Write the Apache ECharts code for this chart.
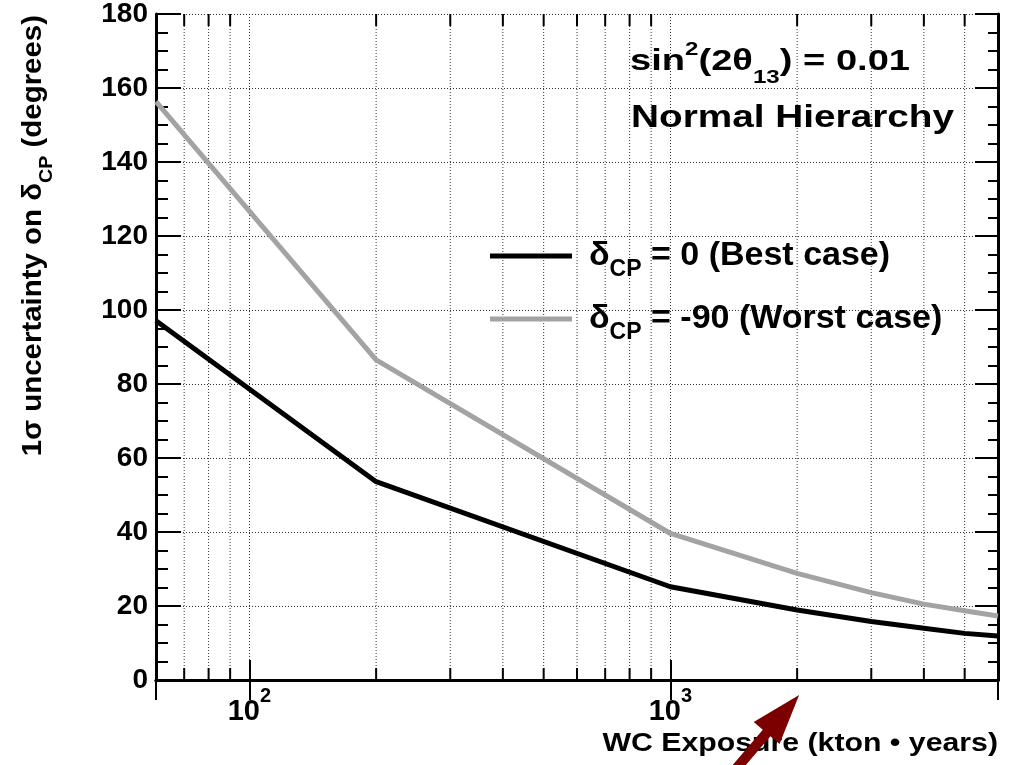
<!DOCTYPE html>
<html><head><meta charset="utf-8">
<script src="https://cdn.jsdelivr.net/npm/echarts@6/dist/echarts.min.js"></script>
<style>html,body{margin:0;padding:0;background:#fff}#c{width:1012px;height:765px}</style>
</head><body><div id="c"></div>
<script>
// ---- data ----
const exposure  = [60, 200, 1000, 2000, 3000, 4000, 5000, 6000];
const bestCase  = [97.1, 53.6, 25.2, 18.9, 15.8, 14.0, 12.6, 11.9];
const worstCase = [156.3, 86.5, 39.6, 28.8, 23.6, 20.5, 18.7, 17.3];
const seriesNames = ['δCP = 0 (Best case)', 'δCP = -90 (Worst case)'];
const xMinorTicks = [70, 80, 90, 200, 300, 400, 500, 600, 700, 800, 900, 2000, 3000, 4000, 5000];
const xRange = [60, 6000];
const yRange = [0, 180];
const yStep = 20;
const arrowTarget = 2000;

const FONT = "'Liberation Sans', Arial, Helvetica, sans-serif";
const GRID_COLOR = '#333';
const GRID_DASH = [1, 2];
const chart = echarts.init(document.getElementById('c'), null, {renderer: 'canvas'});

function pairs(xs, ys) { return xs.map((x, i) => [x, ys[i]]); }

const legendRich = {
  d: {fontSize: 34, fontWeight: 'bold', fontFamily: FONT, color: '#000', lineHeight: 50, verticalAlign: 'middle'},
  sub: {fontSize: 23, fontWeight: 'bold', fontFamily: FONT, color: '#000', lineHeight: 50, verticalAlign: 'bottom'}
};

const option = {
  animation: false,
  backgroundColor: '#fff',
  grid: {left: 156, right: 14, top: 14, bottom: 85, containLabel: false},
  xAxis: [{
    type: 'log', logBase: 10, min: xRange[0], max: xRange[1], position: 'bottom',
    axisLine: {show: true, lineStyle: {color: '#000', width: 3}},
    axisTick: {show: true, inside: true, length: 20, lineStyle: {color: '#000', width: 2}},
    minorTick: {show: false},
    splitLine: {show: true, lineStyle: {color: GRID_COLOR, width: 1, type: GRID_DASH}},
    axisLabel: {
      margin: 6,
      formatter: function (v) {
        const e = Math.round(Math.log10(v));
        if (Math.abs(v - Math.pow(10, e)) > 1e-6 * v) return '';
        return '{b|10}{s|' + e + '}';
      },
      rich: {
        b: {fontSize: 29, fontWeight: 'bold', fontFamily: FONT, color: '#000', lineHeight: 40, verticalAlign: 'bottom'},
        s: {fontSize: 20, fontWeight: 'bold', fontFamily: FONT, color: '#000', lineHeight: 40, verticalAlign: 'top'}
      }
    }
  }, {
    type: 'log', logBase: 10, min: xRange[0], max: xRange[1], position: 'top',
    axisLine: {show: true, lineStyle: {color: '#000', width: 3}},
    axisTick: {show: true, inside: true, length: 20, lineStyle: {color: '#000', width: 2}},
    splitLine: {show: false},
    axisLabel: {show: false}
  }],
  yAxis: [{
    type: 'value', min: yRange[0], max: yRange[1], interval: yStep, position: 'left',
    axisLine: {show: true, lineStyle: {color: '#000', width: 3}},
    axisTick: {show: true, inside: true, length: 25, lineStyle: {color: '#000', width: 2}},
    minorTick: {show: true, splitNumber: 4, length: 12, lineStyle: {color: '#000', width: 2}},
    splitLine: {show: true, lineStyle: {color: GRID_COLOR, width: 1, type: GRID_DASH}},
    axisLabel: {margin: 8, fontSize: 28, fontWeight: 'bold', fontFamily: FONT, color: '#000'}
  }, {
    type: 'value', min: yRange[0], max: yRange[1], interval: yStep, position: 'right',
    axisLine: {show: true, lineStyle: {color: '#000', width: 3}},
    axisTick: {show: true, inside: true, length: 23, lineStyle: {color: '#000', width: 2}},
    minorTick: {show: true, splitNumber: 4, length: 10, lineStyle: {color: '#000', width: 2}},
    splitLine: {show: false},
    axisLabel: {show: false}
  }],
  legend: {
    orient: 'vertical', left: 490, top: 239, itemWidth: 82, itemHeight: 5, itemGap: 21,
    padding: 0, icon: 'rect', selectedMode: false,
    data: seriesNames,
    formatter: function (name) {
      const rest = name.replace('δCP', '');
      return '{d|δ}{sub|CP}{d|' + rest + '}';
    },
    textStyle: {rich: legendRich, padding: [0, 0, 0, 12]}
  },
  series: [{
    type: 'custom', name: 'minorGrid', xAxisIndex: 0, yAxisIndex: 0, z: 1, silent: true,
    data: xMinorTicks.map(v => [v, yRange[0]]),
    encode: {x: 0, y: 1},
    renderItem: function (params, api) {
      const x = api.coord([api.value(0), api.value(1)])[0];
      const cs = params.coordSys;
      const top = cs.y, bottom = cs.y + cs.height;
      return {type: 'group', children: [
        {type: 'line', shape: {x1: x, y1: top, x2: x, y2: bottom}, style: {stroke: GRID_COLOR, lineWidth: 1, lineDash: GRID_DASH}},
        {type: 'line', shape: {x1: x, y1: bottom, x2: x, y2: bottom - 12}, style: {stroke: '#000', lineWidth: 2}},
        {type: 'line', shape: {x1: x, y1: top, x2: x, y2: top + 12}, style: {stroke: '#000', lineWidth: 2}}
      ]};
    }
  }, {
    type: 'line', name: seriesNames[0], data: pairs(exposure, bestCase),
    showSymbol: false, symbol: 'none', z: 4, color: '#000',
    lineStyle: {color: '#000', width: 5}
  }, {
    type: 'line', name: seriesNames[1], data: pairs(exposure, worstCase),
    showSymbol: false, symbol: 'none', z: 3, color: '#a3a3a3',
    lineStyle: {color: '#a3a3a3', width: 5}
  }]
};
chart.setOption(option);

// ---- annotations ----
const tipX = chart.convertToPixel({xAxisIndex: 0}, arrowTarget) + 2;
const gridBottom = chart.convertToPixel({yAxisIndex: 0}, yRange[0]);
const tipY = gridBottom + 15;
const d = [-0.65, 0.76], n = [0.76, 0.65];
function P(a, b) { return [tipX + d[0] * a + n[0] * b, tipY + d[1] * a + n[1] * b]; }
const arrowPts = [P(0, 0), P(50, 17), P(50, 5), P(160, 5), P(160, -5), P(50, -5), P(50, -17)];

const txtBase = {fontWeight: 'bold', fontFamily: FONT, fill: '#000'};
chart.setOption({
  graphic: [
    {
      type: 'text', x: 630, y: 62, z: 10, scaleX: 1.27,
      style: Object.assign({}, txtBase, {
        text: '{a|sin}{sup|2}{a|(2θ}{sub|13}{a|) = 0.01}',
        fontSize: 30, align: 'left', verticalAlign: 'middle',
        rich: {
          a: {fontSize: 30, fontWeight: 'bold', fontFamily: FONT, lineHeight: 50, verticalAlign: 'middle'},
          sup: {fontSize: 19, fontWeight: 'bold', fontFamily: FONT, lineHeight: 50, verticalAlign: 'top', padding: [3, 0, 0, 0]},
          sub: {fontSize: 19, fontWeight: 'bold', fontFamily: FONT, lineHeight: 50, verticalAlign: 'bottom'}
        }
      })
    },
    {
      type: 'text', x: 631, y: 118, z: 10, scaleX: 1.25,
      style: Object.assign({}, txtBase, {text: 'Normal Hierarchy', fontSize: 31, align: 'left', verticalAlign: 'middle'})
    },
    {
      type: 'text', x: 998, y: 744, z: 10, scaleX: 1.21,
      style: Object.assign({}, txtBase, {text: 'WC Exposure (kton • years)', fontSize: 25, align: 'right', verticalAlign: 'middle'})
    },
    {
      type: 'text', x: 34, y: 15, z: 10, rotation: Math.PI / 2, scaleX: 1.09,
      style: Object.assign({}, txtBase, {
        text: '{a|1σ uncertainty on δ}{sub|CP}{a| (degrees)}',
        fontSize: 27, align: 'right', verticalAlign: 'middle',
        rich: {
          a: {fontSize: 27, fontWeight: 'bold', fontFamily: FONT, lineHeight: 44, verticalAlign: 'middle'},
          sub: {fontSize: 18, fontWeight: 'bold', fontFamily: FONT, lineHeight: 44, verticalAlign: 'bottom'}
        }
      })
    },
    {
      type: 'polygon', z: 20, shape: {points: arrowPts}, style: {fill: '#7d0000'}
    }
  ]
});
</script></body></html>
